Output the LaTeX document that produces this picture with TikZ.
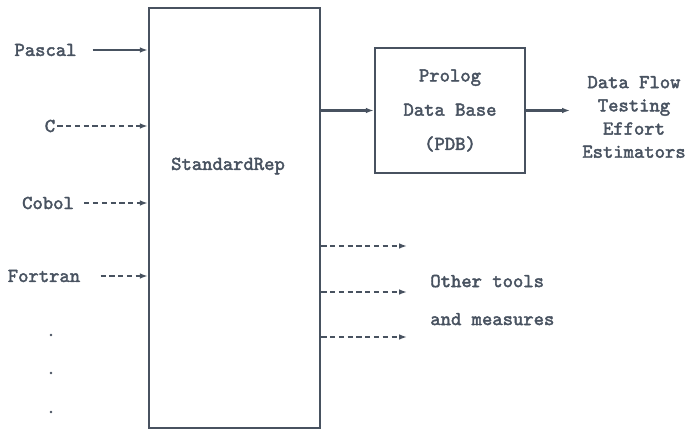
\documentclass[tikz,border=0pt]{standalone}
\usepackage{fontspec}
\newfontfamily\repfont[FakeBold=2.2]{lmmono10-regular.otf}
\usepackage{xcolor}
\usetikzlibrary{arrows.meta,positioning,calc}
\definecolor{ink}{RGB}{72,82,96}

\begin{document}
\begin{tikzpicture}[
    txt/.style={ink,inner sep=0pt,font=\repfont\fontsize{11.2}{13}\selectfont},
    box/.style={draw=ink,line width=1.4pt,inner sep=0pt},
    feed/.style={ink,line width=1.2pt,-{Latex[length=4.5pt,width=3.2pt]}},
    dfeed/.style={feed,dash pattern=on 3pt off 2pt}
]
        \useasboundingbox (0,0) rectangle (13.86,8.64);

        % Standard representation
        \node[box,minimum width=3.42cm,minimum height=8.4cm] (rep) at (4.69,4.28) {};
        \node[txt] (replabel) at (4.56,5.32) {StandardRep};

        % Source languages
        \node[txt] (pascal) at (0.91,7.64) {Pascal};
        \node[txt] (clang) at (1.0,6.12) {C};
        \node[txt] (cobol) at (0.96,4.58) {Cobol};
        \node[txt] (fortran) at (0.88,3.12) {Fortran};
        \foreach \y in {1.94,1.18,0.4}
            \fill[ink] (1.02,\y) circle (0.028);

        \draw[feed,shorten <=9pt] (pascal.east) -- (pascal -| rep.west);
        \draw[dfeed,shorten <=1pt] (clang.east) -- (clang -| rep.west);
        \draw[dfeed,shorten <=5.7pt] (cobol.east) -- (cobol -| rep.west);
        \draw[dfeed,shorten <=11.4pt] (fortran.east) -- (fortran -| rep.west);

        % Prolog data base
        \node[box,minimum width=3.0cm,minimum height=2.5cm,txt,align=center,
              font=\repfont\fontsize{11.2}{19.5}\selectfont] (pdb) at (9.0,6.43)
              {Prolog\\Data Base\\(PDB)};
        \draw[feed] (pdb.west -| rep.east) -- (pdb.west);

        % Estimators
        \node[txt,align=center,font=\repfont\fontsize{11.2}{13.2}\selectfont]
              (dft) at (12.68,6.3) {Data Flow\\Testing\\Effort\\Estimators};
        \coordinate (dftin) at (11.4,6.43);
        \draw[feed] (pdb.east |- dftin) -- (dftin);

        % Other tools
        \foreach \y [count=\i] in {3.72,2.8,1.9}
            \coordinate (tool\i) at (8.14,\y);
        \foreach \i in {1,2,3}
            \draw[dfeed] (tool\i -| rep.east) -- (tool\i);
        \node[txt,align=left,anchor=west,font=\repfont\fontsize{11.2}{21.6}\selectfont]
              (others) at (8.6,2.64) {Other tools\\and measures};

\end{tikzpicture}
\end{document}
